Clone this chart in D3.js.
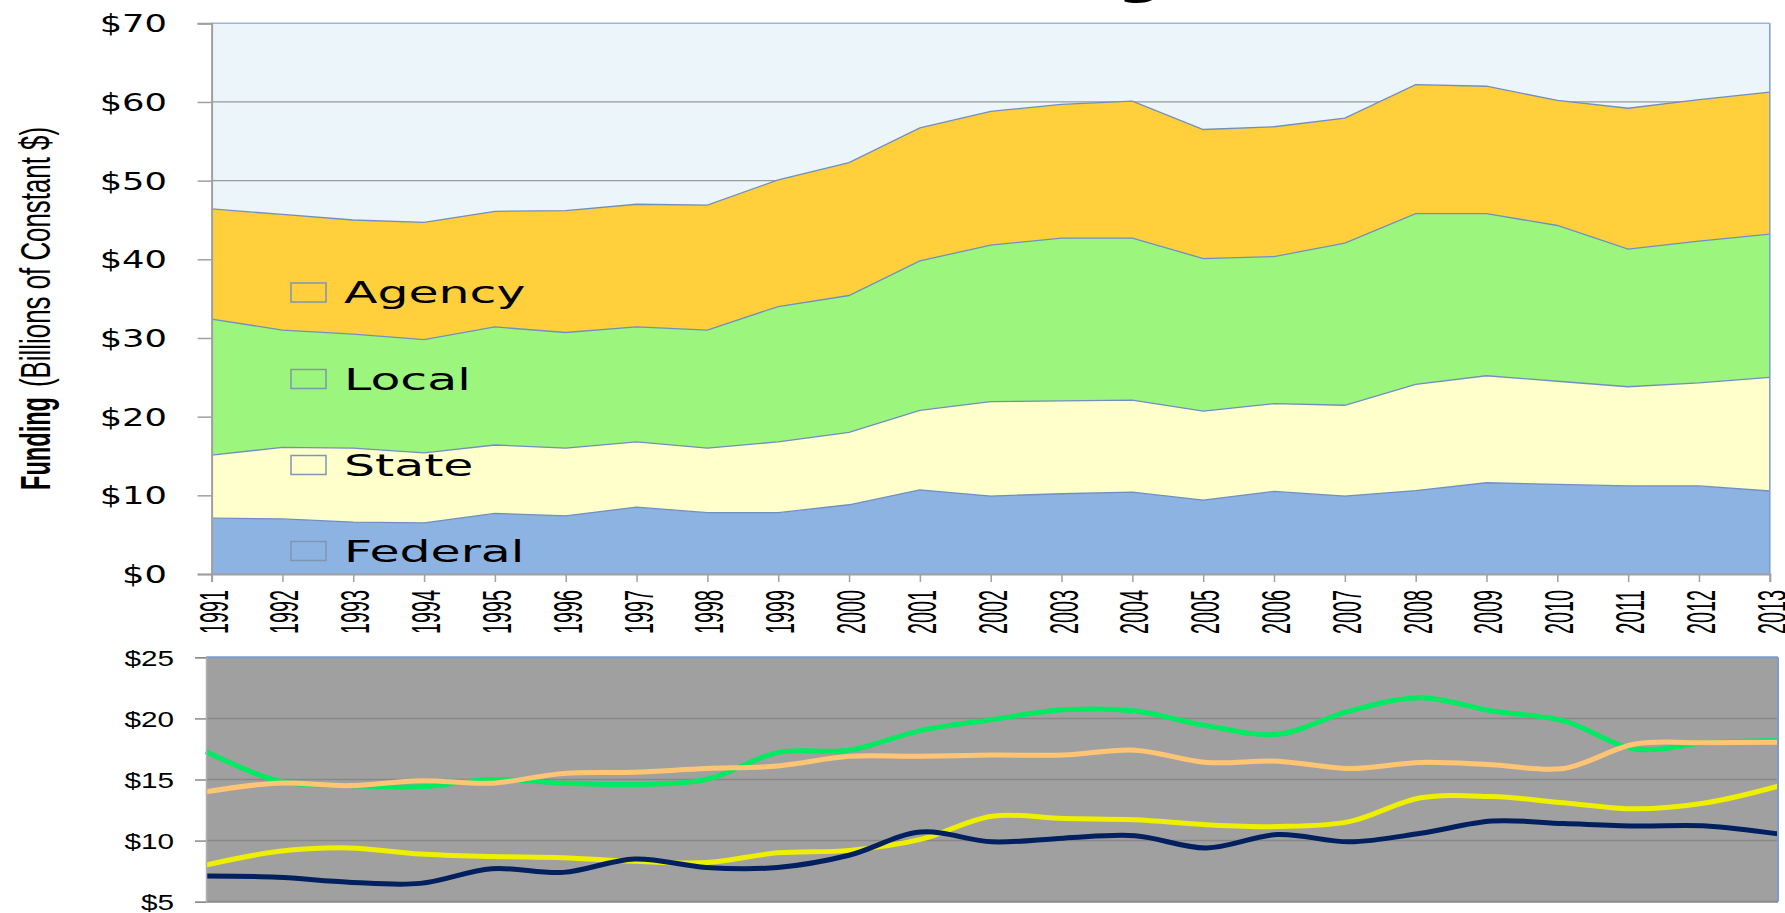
<!DOCTYPE html>
<html>
<head>
<meta charset="utf-8">
<script src="https://cdn.jsdelivr.net/npm/d3@7"></script>
<style>
  html, body { margin: 0; padding: 0; background: #ffffff; overflow: hidden; }
  svg { display: block; }
</style>
</head>
<body>
<svg id="chart" width="1785" height="913"></svg>
<script>
// ---------------- data ----------------
const years = [1991,1992,1993,1994,1995,1996,1997,1998,1999,2000,2001,2002,2003,2004,2005,2006,2007,2008,2009,2010,2011,2012,2013];
const federal = [7.1,7.0,6.6,6.5,7.7,7.4,8.5,7.8,7.8,8.8,10.7,9.9,10.2,10.4,9.4,10.5,9.9,10.6,11.6,11.4,11.2,11.2,10.55];
const state   = [8.0,9.1,9.4,8.9,8.7,8.6,8.3,8.2,9.0,9.2,10.1,12.0,11.8,11.7,11.3,11.15,11.55,13.5,13.6,13.1,12.6,13.1,14.45];
const local   = [17.3,14.9,14.5,14.4,15.0,14.7,14.6,15.0,17.2,17.4,19.0,19.9,20.7,20.6,19.4,18.7,20.6,21.7,20.6,19.8,17.5,18.0,18.2];
const agency  = [14.0,14.7,14.5,14.9,14.7,15.5,15.6,15.9,16.1,16.9,16.9,17.0,17.0,17.4,16.4,16.5,15.9,16.4,16.2,15.9,17.9,18.0,18.05];
const seriesNames = ["Federal","State","Local","Agency"];
const topTicks = [0,10,20,30,40,50,60,70];
const bottomTicks = [5,10,15,20,25];
const titleText = "Transit Funding";

// ---------------- styling ----------------
const areaColors = {Federal:"#8DB3E2", State:"#FFFFCC", Local:"#9CF67D", Agency:"#FFCF3C"};
const lineColors = {Federal:"#00205F", State:"#EEF000", Local:"#00EA62", Agency:"#FFC575"};

const svg = d3.select("#chart");

function stretch(sel, factor) {
  sel.each(function() {
    const l = this.getComputedTextLength();
    this.setAttribute("textLength", l * factor);
    this.setAttribute("lengthAdjust", "spacingAndGlyphs");
  });
}
function fixLen(sel, len) {
  sel.attr("textLength", len).attr("lengthAdjust", "spacingAndGlyphs");
}

// ---------------- title (mostly cut off) ----------------
const title = svg.append("text")
  .attr("x", 1163).attr("y", -6)
  .attr("text-anchor", "end")
  .attr("font-family", "DejaVu Sans").attr("font-weight", "bold")
  .attr("font-size", 44).attr("fill", "#000")
  .text(titleText);
stretch(title, 1.45);

// ---------------- top chart ----------------
const T = {left: 211.6, right: 1769.8, top: 23.3, bottom: 574};
const xTop = d3.scaleLinear().domain([1991, 2013]).range([T.left, T.right]);
const yTop = d3.scaleLinear().domain([0, 70]).range([T.bottom, T.top]);

const rows = years.map((y, i) => ({year: y, Federal: federal[i], State: state[i], Local: local[i], Agency: agency[i]}));
const stacked = d3.stack().keys(seriesNames)(rows);

const gTop = svg.append("g");
gTop.append("rect")
  .attr("x", T.left).attr("y", T.top)
  .attr("width", T.right - T.left).attr("height", T.bottom - T.top)
  .attr("fill", "#ECF5F9");

// gridlines
gTop.append("g").selectAll("line").data(topTicks.filter(d => d > 0 && d < 70)).join("line")
  .attr("x1", T.left).attr("x2", T.right)
  .attr("y1", d => yTop(d)).attr("y2", d => yTop(d))
  .attr("stroke", "#9a9a9a").attr("stroke-width", 1.3);

const area = d3.area()
  .x((d, i) => xTop(years[i]))
  .y0(d => yTop(d[0]))
  .y1(d => yTop(d[1]));
gTop.append("g").selectAll("path").data(stacked).join("path")
  .attr("d", area)
  .attr("fill", d => areaColors[d.key]);
const topLine = d3.line().x((d, i) => xTop(years[i])).y(d => yTop(d[1]));
gTop.append("g").selectAll("path").data(stacked).join("path")
  .attr("d", topLine)
  .attr("fill", "none")
  .attr("stroke", "#6F8FC2").attr("stroke-width", 1.3);

// borders
gTop.append("line").attr("x1", T.left).attr("x2", T.right).attr("y1", T.top).attr("y2", T.top)
  .attr("stroke", "#9DB6D8").attr("stroke-width", 1.5);
gTop.append("line").attr("x1", T.right).attr("x2", T.right).attr("y1", T.top).attr("y2", T.bottom)
  .attr("stroke", "#7D9CCB").attr("stroke-width", 1.5);

// y axis
const yAxisTop = gTop.append("g").attr("transform", `translate(${T.left},0)`)
  .call(d3.axisLeft(yTop).tickValues(topTicks).tickSize(14).tickPadding(30).tickFormat(d => "$" + d));
yAxisTop.select(".domain").attr("stroke", "#a0a0a0").attr("stroke-width", 2);
yAxisTop.selectAll(".tick line").attr("stroke", "#a0a0a0").attr("stroke-width", 1.5);
yAxisTop.selectAll(".tick text")
  .attr("font-family", "DejaVu Sans").attr("font-size", 24).attr("fill", "#000")
  .attr("x", -44.6).attr("dy", "0.36em");
stretch(yAxisTop.selectAll(".tick text"), 1.47);

// x axis
const xAxisTop = gTop.append("g").attr("transform", `translate(0,${T.bottom})`)
  .call(d3.axisBottom(xTop).tickValues(years).tickSize(8).tickFormat(d3.format("d")));
xAxisTop.select(".domain").attr("stroke", "#a0a0a0").attr("stroke-width", 2);
xAxisTop.selectAll(".tick line").attr("stroke", "#a0a0a0").attr("stroke-width", 1.5);
xAxisTop.selectAll(".tick text")
  .attr("font-family", "Liberation Sans").attr("font-size", 41).attr("fill", "#000")
  .attr("text-anchor", "end")
  .attr("dominant-baseline", "central")
  .attr("x", 0).attr("y", 0).attr("dy", null)
  .attr("transform", "translate(1.5,16) rotate(-90)");
fixLen(xAxisTop.selectAll(".tick text"), 44);

// y axis title
const yt1 = svg.append("text")
  .attr("transform", "translate(49.7,490) rotate(-90)")
  .attr("font-family", "Liberation Sans").attr("font-weight", "bold")
  .attr("font-size", 43).attr("fill", "#000")
  .text("Funding");
fixLen(yt1, 93);
const yt2 = svg.append("text")
  .attr("transform", "translate(49.7,387) rotate(-90)")
  .attr("font-family", "Liberation Sans")
  .attr("font-size", 43).attr("fill", "#000")
  .text("(Billions of Constant $)");
fixLen(yt2, 260);

// legend
const legendY = {Agency: 292.5, Local: 379, State: 465, Federal: 551};
const leg = svg.append("g").selectAll("g").data(seriesNames).join("g")
  .attr("transform", d => `translate(291,${legendY[d]})`);
leg.append("rect")
  .attr("x", 0).attr("y", -9.5).attr("width", 35).attr("height", 19)
  .attr("fill", d => areaColors[d])
  .attr("stroke", "#7F96B2").attr("stroke-width", 1.5);
const legText = leg.append("text")
  .attr("x", 53).attr("y", 0).attr("dy", "0.36em")
  .attr("font-family", "DejaVu Sans").attr("font-size", 30).attr("fill", "#000")
  .text(d => d);
stretch(legText, 1.63);

// ---------------- bottom chart ----------------
const B = {left: 206, right: 1778, top: 657.3, bottom: 901.7};
const xBot = d3.scaleLinear().domain([1991, 2013]).range([B.left, B.right]);
const yBot = d3.scaleLinear().domain([5, 25]).range([B.bottom, B.top]);

const gBot = svg.append("g");
gBot.append("rect")
  .attr("x", B.left).attr("y", B.top)
  .attr("width", B.right - B.left).attr("height", B.bottom - B.top)
  .attr("fill", "#A0A0A0");
gBot.append("g").selectAll("line").data(bottomTicks.filter(d => d > 5 && d < 25)).join("line")
  .attr("x1", B.left).attr("x2", B.right)
  .attr("y1", d => yBot(d)).attr("y2", d => yBot(d))
  .attr("stroke", "#878787").attr("stroke-width", 1.5);

const lineSeries = [
  {key: "Local", values: local},
  {key: "Agency", values: agency},
  {key: "State", values: state},
  {key: "Federal", values: federal}
];
const smooth = d3.line().curve(d3.curveCatmullRom.alpha(0.5))
  .x((d, i) => xBot(years[i])).y(d => yBot(d));
gBot.append("g").selectAll("path").data(lineSeries).join("path")
  .attr("d", d => smooth(d.values))
  .attr("fill", "none")
  .attr("stroke", d => lineColors[d.key])
  .attr("stroke-width", 5)
  .attr("stroke-linejoin", "round");

gBot.append("line").attr("x1", B.left).attr("x2", B.right).attr("y1", B.top).attr("y2", B.top)
  .attr("stroke", "#7D9CCB").attr("stroke-width", 2);
gBot.append("line").attr("x1", B.right).attr("x2", B.right).attr("y1", B.top).attr("y2", B.bottom)
  .attr("stroke", "#7D9CCB").attr("stroke-width", 2);
gBot.append("line").attr("x1", B.left).attr("x2", B.right).attr("y1", B.bottom).attr("y2", B.bottom)
  .attr("stroke", "#8a8a8a").attr("stroke-width", 2);

const yAxisBot = gBot.append("g").attr("transform", `translate(${B.left},0)`)
  .call(d3.axisLeft(yBot).tickValues(bottomTicks).tickSize(11).tickFormat(d => "$" + d));
yAxisBot.select(".domain").attr("stroke", "#b0b0b0").attr("stroke-width", 1.5);
yAxisBot.selectAll(".tick line").attr("stroke", "#8a8a8a").attr("stroke-width", 1.5);
yAxisBot.selectAll(".tick text")
  .attr("font-family", "Liberation Sans").attr("font-size", 22).attr("fill", "#000")
  .attr("x", -32).attr("dy", "0.36em");
stretch(yAxisBot.selectAll(".tick text"), 1.35);
</script>
</body>
</html>
